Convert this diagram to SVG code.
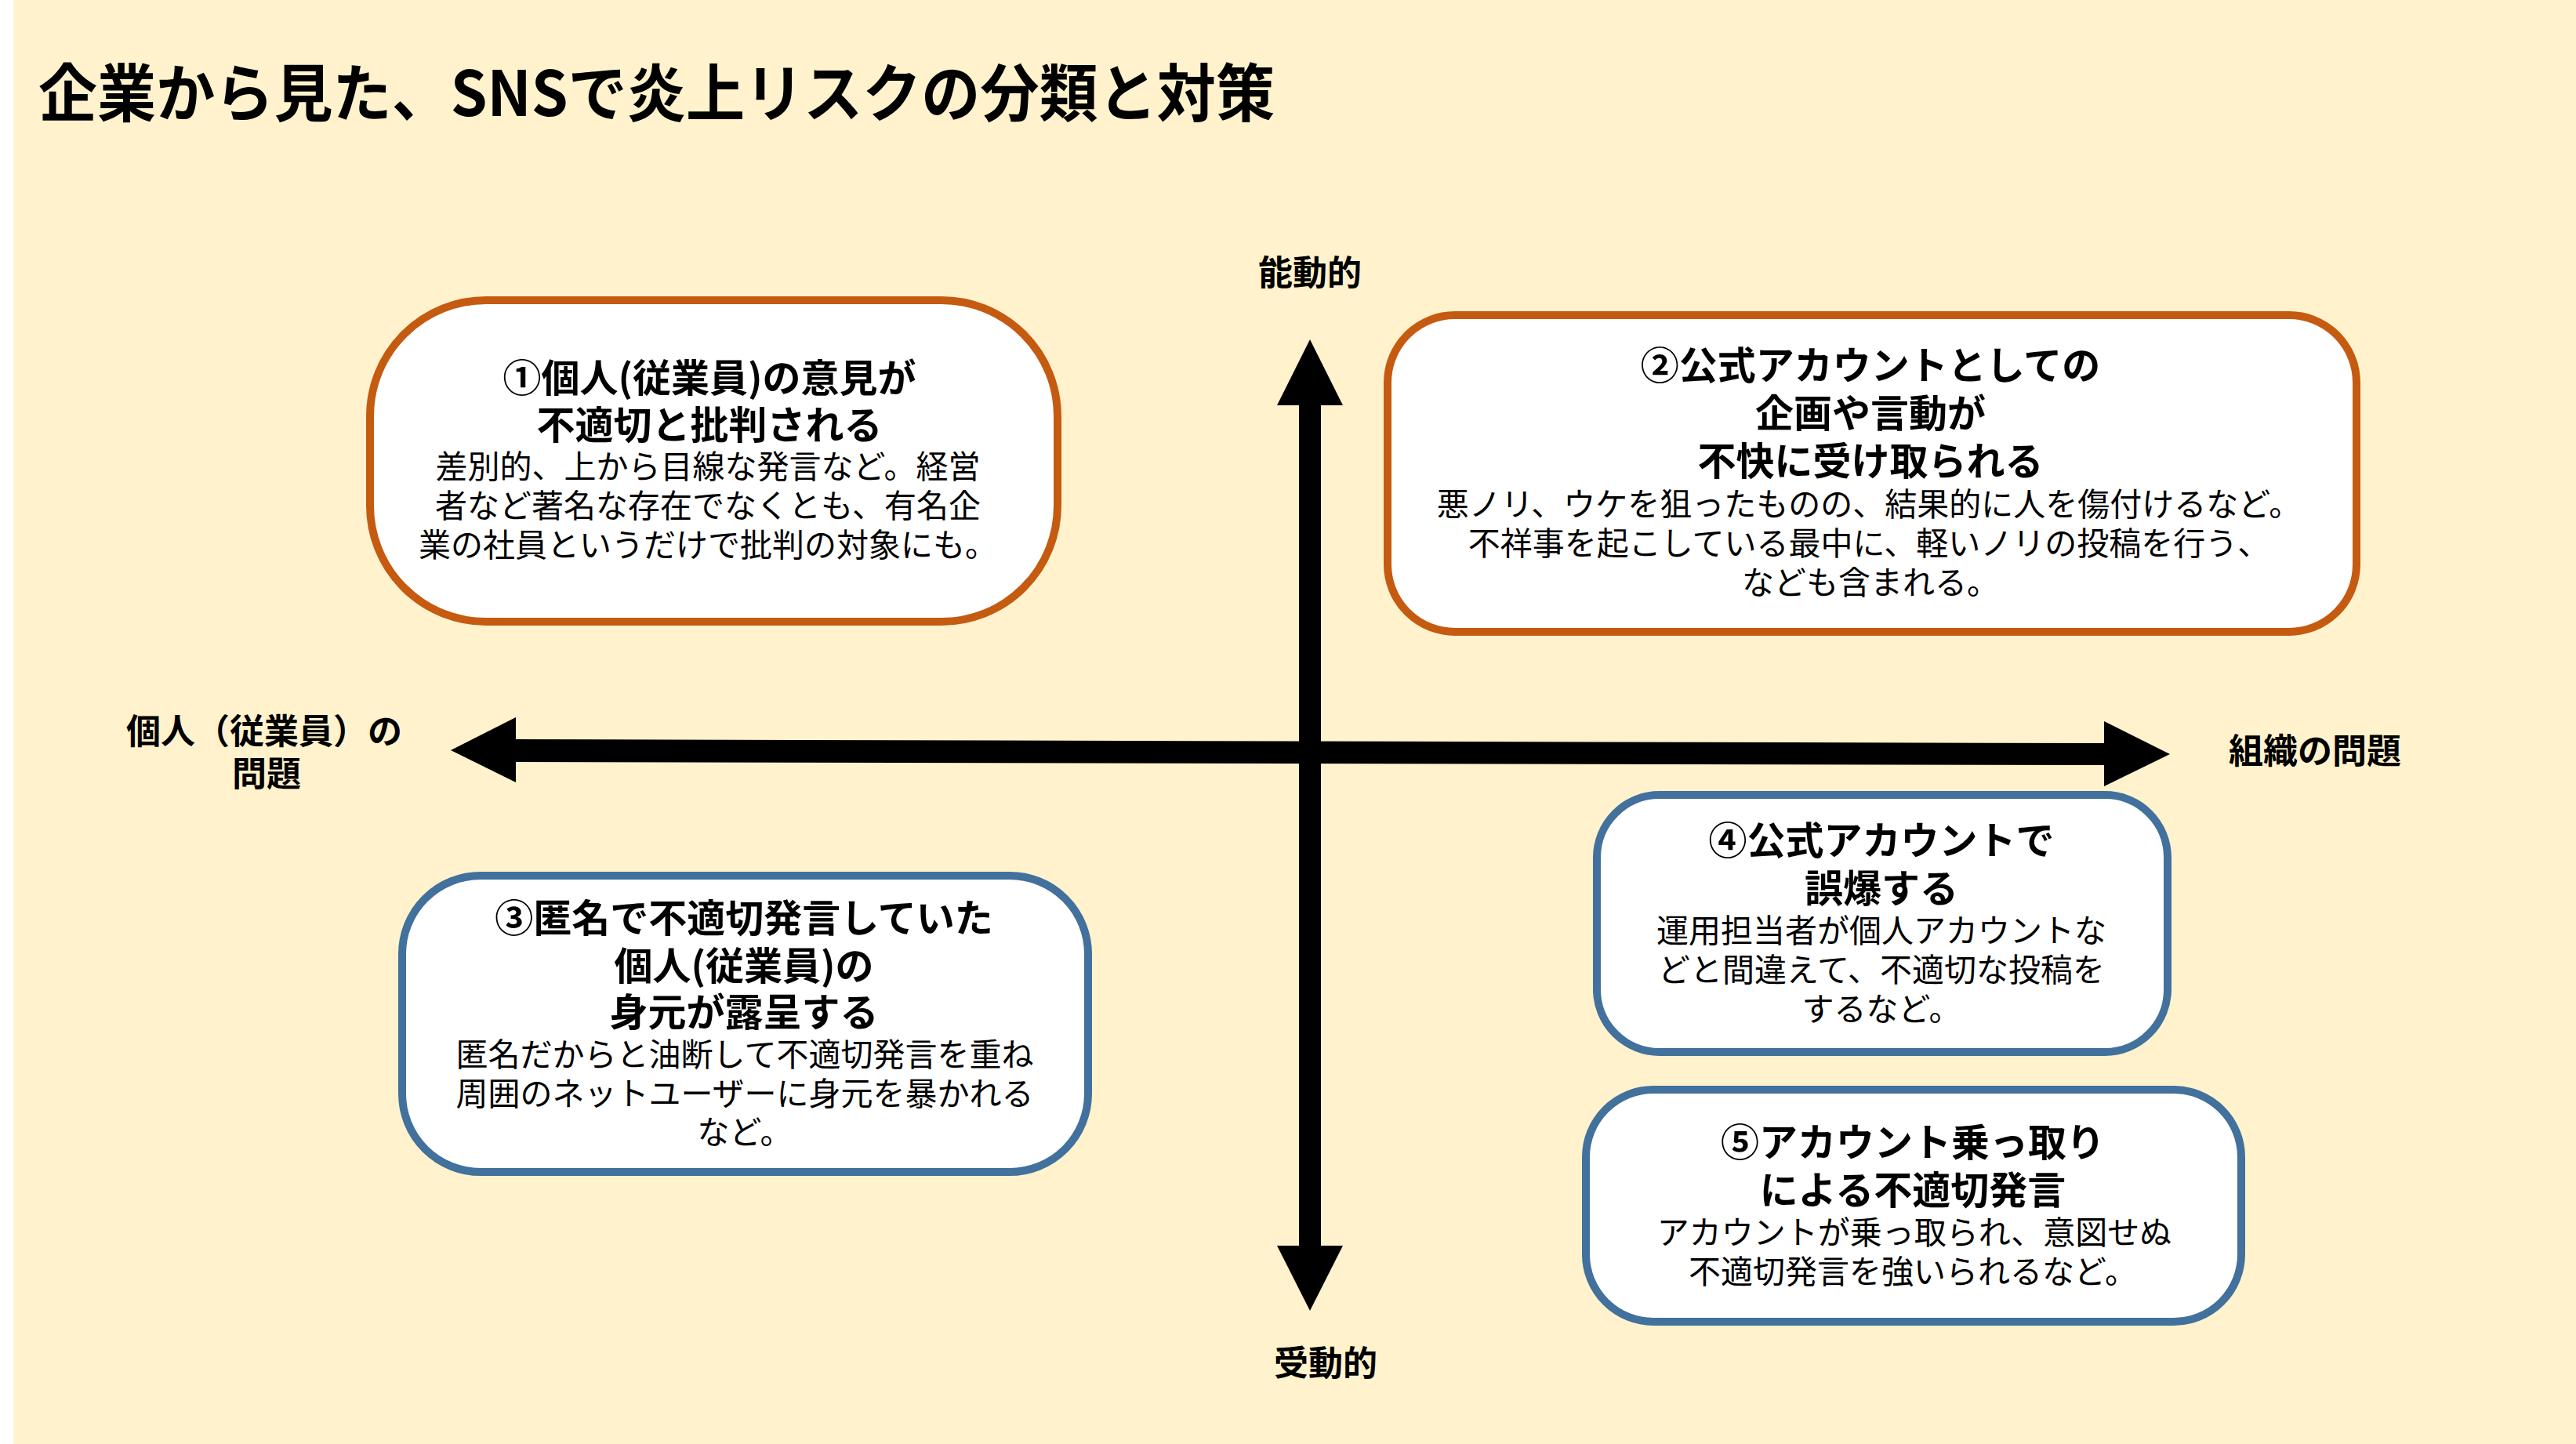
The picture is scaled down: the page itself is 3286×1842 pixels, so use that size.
<svg xmlns="http://www.w3.org/2000/svg" width="3286" height="1842" viewBox="0 0 3286 1842">
<style>
text{font-family:"Noto Sans CJK JP","Noto Sans",sans-serif;fill:#000;text-anchor:middle}
.t{font-size:49px;font-weight:700}
.b{font-size:41px;font-weight:400}
.ax{font-size:44px;font-weight:700}
.or{fill:#fff;stroke:#C55A11;stroke-width:10}
.bl{fill:#fff;stroke:#41719C;stroke-width:10}
</style>
<rect x="0" y="0" width="3286" height="1842" fill="#fff"/>
<rect x="17" y="0" width="3269" height="1842" fill="#FFF2CC"/>
<text x="49" y="148" style="font-size:80px;font-weight:700;text-anchor:start" textLength="1577" lengthAdjust="spacingAndGlyphs">企業から見た、SNSで炎上リスクの分類と対策</text>
<g id="connectors">
<rect x="1657" y="515" width="28" height="1076" fill="#000"/>
<polygon points="1671,433 1713,517 1629,517" fill="#000"/>
<polygon points="1671,1672 1713,1589 1629,1589" fill="#000"/>
<polygon points="656,943 2686,948 2686,976 656,972" fill="#000"/>
<polygon points="575,957 658,915 658,998" fill="#000"/>
<polygon points="2768,962 2684,920 2684,1003" fill="#000"/>
</g>
<g id="label-top"><text class="ax" x="1671" y="364">能動的</text></g>
<g id="label-bottom"><text class="ax" x="1691" y="1755">受動的</text></g>
<g id="label-left"><text class="ax" x="337" y="949">個人（従業員）の</text><text class="ax" x="340" y="1003">問題</text></g>
<g id="label-right"><text class="ax" x="2953" y="974">組織の問題</text></g>
<g id="node1">
<rect class="or" x="472" y="383" width="877" height="410" rx="148" ry="148"/>
<text class="t" x="905" y="500">①個人(従業員)の意見が</text>
<text class="t" x="905" y="560">不適切と批判される</text>
<text class="b" x="903" y="610">差別的、上から目線な発言など。経営</text>
<text class="b" x="903" y="660">者など著名な存在でなくとも、有名企</text>
<text class="b" x="903" y="710">業の社員というだけで批判の対象にも。</text>
</g>
<g id="node2">
<rect class="or" x="1770" y="402" width="1236" height="404" rx="86" ry="86"/>
<text class="t" x="2386" y="484">②公式アカウントとしての</text>
<text class="t" x="2386" y="545">企画や言動が</text>
<text class="t" x="2386" y="606">不快に受け取られる</text>
<text class="b" x="2384" y="658">悪ノリ、ウケを狙ったものの、結果的に人を傷付けるなど。</text>
<text class="b" x="2384" y="708">不祥事を起こしている最中に、軽いノリの投稿を行う、</text>
<text class="b" x="2386" y="758">なども含まれる。</text>
</g>
<g id="node3">
<rect class="bl" x="513" y="1117" width="875" height="378" rx="100" ry="100"/>
<text class="t" x="949" y="1189">③匿名で不適切発言していた</text>
<text class="t" x="949" y="1250">個人(従業員)の</text>
<text class="t" x="949" y="1309">身元が露呈する</text>
<text class="b" x="950" y="1360">匿名だからと油断して不適切発言を重ね</text>
<text class="b" x="950" y="1410">周囲のネットユーザーに身元を暴かれる</text>
<text class="b" x="950" y="1459">など。</text>
</g>
<g id="node4">
<rect class="bl" x="2037" y="1014" width="728" height="328" rx="80" ry="80"/>
<text class="t" x="2400" y="1090">④公式アカウントで</text>
<text class="t" x="2400" y="1151">誤爆する</text>
<text class="b" x="2400" y="1202">運用担当者が個人アカウントな</text>
<text class="b" x="2400" y="1252">どと間違えて、不適切な投稿を</text>
<text class="b" x="2400" y="1302">するなど。</text>
</g>
<g id="node5">
<rect class="bl" x="2023" y="1390" width="836" height="296" rx="86" ry="86"/>
<text class="t" x="2440" y="1475">⑤アカウント乗っ取り</text>
<text class="t" x="2440" y="1536">による不適切発言</text>
<text class="b" x="2442" y="1587">アカウントが乗っ取られ、意図せぬ</text>
<text class="b" x="2440" y="1637">不適切発言を強いられるなど。</text>
</g>
</svg>
